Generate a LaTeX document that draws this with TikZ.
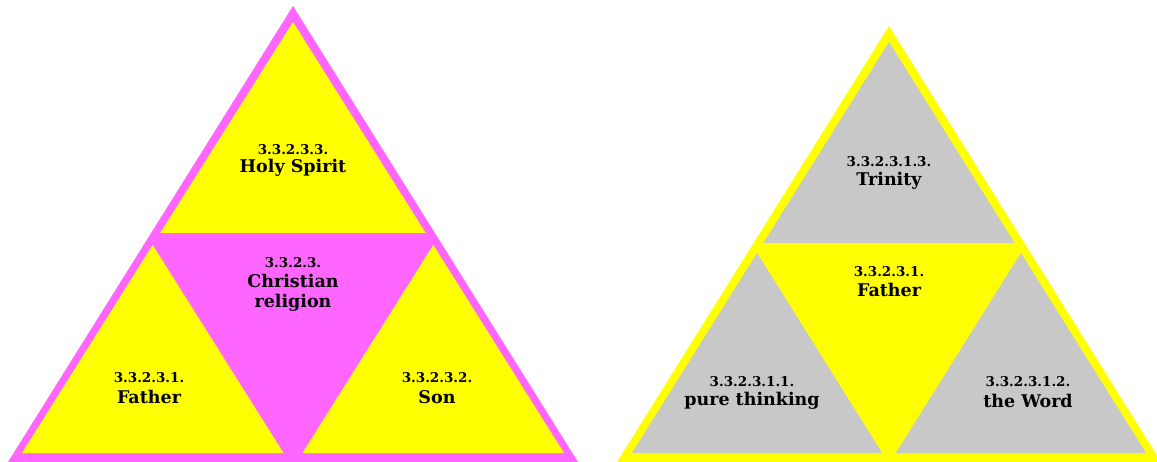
\documentclass[tikz,border=0pt]{standalone}
\usepackage{fontspec}
\setmainfont{DejaVu Serif}
\definecolor{tpink}{HTML}{FF66FF}
\definecolor{tyellow}{HTML}{FFFF00}
\definecolor{tgrey}{HTML}{C8C8C8}
\tikzset{
  num/.style={font=\bfseries\fontsize{13.5}{15}\selectfont, inner sep=0pt, anchor=center},
  lab/.style={font=\bfseries\fontsize{17.5}{19.5}\selectfont, inner sep=0pt, align=center, anchor=center},
}
\begin{document}
\begin{tikzpicture}[x=1pt,y=-1pt]
\useasboundingbox (0,0) rectangle (1157,462);
% ---- left triangle
\fill[tpink] (293,6) -- (8,462) -- (578,462) -- cycle;
\fill[tyellow] (293,22) -- (160.3,233) -- (425.7,233) -- cycle;
\fill[tyellow] (152.7,245) -- (22,453) -- (283.5,453) -- cycle;
\fill[tyellow] (433.3,245) -- (302.5,453) -- (564,453) -- cycle;
% ---- right triangle
\fill[tyellow] (889,26) -- (617,462) -- (1161,462) -- cycle;
\fill[tgrey] (889,42) -- (763.4,243) -- (1014.6,243) -- cycle;
\fill[tgrey] (757.1,253) -- (632,453) -- (882.1,453) -- cycle;
\fill[tgrey] (1020.9,253) -- (895.9,453) -- (1146,453) -- cycle;
% ---- texts left
\node[num] (n1) at (293,150) {3.3.2.3.3.};
\node[lab] (l1) at (293,168) {Holy Spirit};
\node[num] (n2) at (293,263) {3.3.2.3.};
\node[lab] (l2) at (293,293) {Christian\\religion};
\node[num] (n3) at (149,378) {3.3.2.3.1.};
\node[lab] (l3) at (149,397) {Father};
\node[num] (n4) at (437,378) {3.3.2.3.2.};
\node[lab] (l4) at (437,397) {Son};
% ---- texts right
\node[num] (m1) at (889,162) {3.3.2.3.1.3.};
\node[lab] (k1) at (889,181) {Trinity};
\node[num] (m2) at (889,272) {3.3.2.3.1.};
\node[lab] (k2) at (889,290) {Father};
\node[num] (m3) at (752,382) {3.3.2.3.1.1.};
\node[lab] (k3) at (752,401) {pure thinking};
\node[num] (m4) at (1028,382) {3.3.2.3.1.2.};
\node[lab] (k4) at (1028,401) {the Word};
\end{tikzpicture}
\end{document}
